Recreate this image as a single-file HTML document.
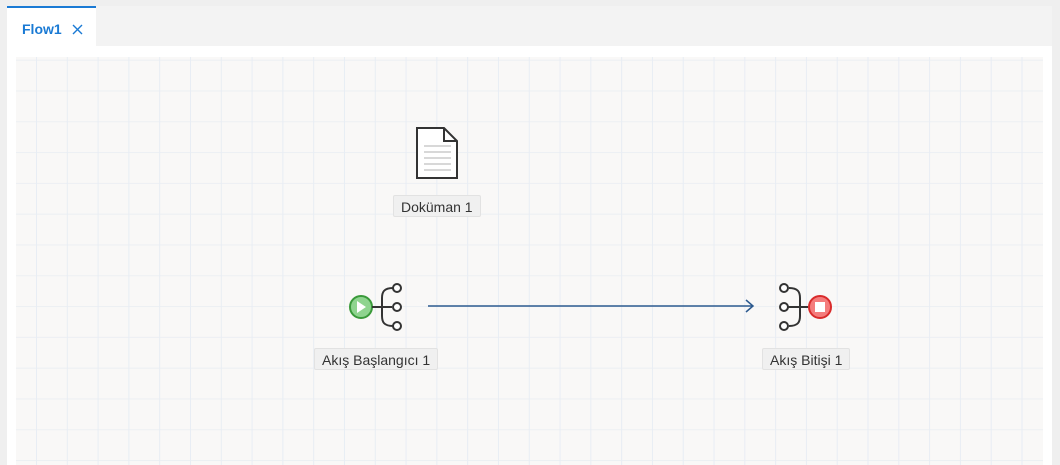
<!DOCTYPE html>
<html><head><style>
body{margin:0;width:1060px;height:465px;background:#efefef;overflow:hidden;font-family:"Liberation Sans",sans-serif;position:relative}
.tabbar{position:absolute;left:7px;top:6px;width:1045px;height:40px;background:#f3f3f3}
.tab{position:absolute;left:7px;top:6px;width:89px;height:40px;background:#fff;border-top:2px solid #1a7ad4;box-sizing:border-box}
.tab span{position:absolute;left:15px;top:13px;font-size:14px;color:#1a7ad4;font-weight:bold}
.panel{position:absolute;left:7px;top:46px;width:1045px;height:419px;background:#fff}
.canvas{position:absolute;left:16px;top:57px;width:1027px;height:408px;background-color:#f9f8f7;
background-image:linear-gradient(to right,#e8edf4 1px,transparent 1px),linear-gradient(to bottom,#eceff3 1px,transparent 1px);
background-size:30.8px 30.8px;background-position:20px 2.7px}
.lbl{position:absolute;background:#f0f0f0;border:1px solid #e2e2e2;border-radius:2px;font-size:14px;color:#333;height:22px;line-height:22px;padding:0 7px;box-sizing:border-box}
</style></head><body>
<div class="tabbar"></div>
<div class="tab"><span>Flow1</span>
<svg style="position:absolute;left:65px;top:16px" width="11" height="11"><path d="M1 1L10 10M10 1L1 10" stroke="#1a7ad4" stroke-width="1.4"/></svg></div>
<div class="panel"></div>
<div class="canvas"></div>
<svg style="position:absolute;left:0;top:0" width="1060" height="465">
<g fill="none" stroke="#333" stroke-width="2">
<path d="M417 128h27l13 13v37h-40z" fill="#fff"/>
<path d="M444 128v13h13"/>
</g>
<g stroke="#ccc" stroke-width="1.5"><path d="M424 146h27M424 152h27M424 158h27M424 164h27M424 170h27"/></g>
<circle cx="361" cy="307" r="11" fill="#8fd48f" stroke="#3a9a3a" stroke-width="2"/>
<path d="M357 301l9 6-9 6z" fill="#fff"/>
<g fill="none" stroke="#333" stroke-width="2">
<path d="M372 307h20"/>
<path d="M393 288c-9 0-11 4-11 10v18c0 6 2 10 11 10"/>
<circle cx="397" cy="288" r="4" fill="#fff"/><circle cx="397" cy="307" r="4" fill="#fff"/><circle cx="397" cy="326" r="4" fill="#fff"/>
<path d="M789 288c9 0 11 4 11 10v18c0 6-2 10-11 10M788 307h20"/>
<circle cx="784" cy="288" r="4" fill="#fff"/><circle cx="784" cy="307" r="4" fill="#fff"/><circle cx="784" cy="326" r="4" fill="#fff"/>
</g>
<circle cx="820" cy="307" r="11" fill="#f47c7c" stroke="#d92b2b" stroke-width="2"/>
<rect x="815" y="302" width="10" height="10" fill="#fff"/>
<path d="M428 306H753M746 300l7 6-7 6" fill="none" stroke="#2c5a8f" stroke-width="1.5"/>
</svg>
<div class="lbl" style="left:393px;top:195px">Doküman 1</div>
<div class="lbl" style="left:314px;top:348px">Akış Başlangıcı 1</div>
<div class="lbl" style="left:762px;top:348px">Akış Bitişi 1</div>
</body></html>
